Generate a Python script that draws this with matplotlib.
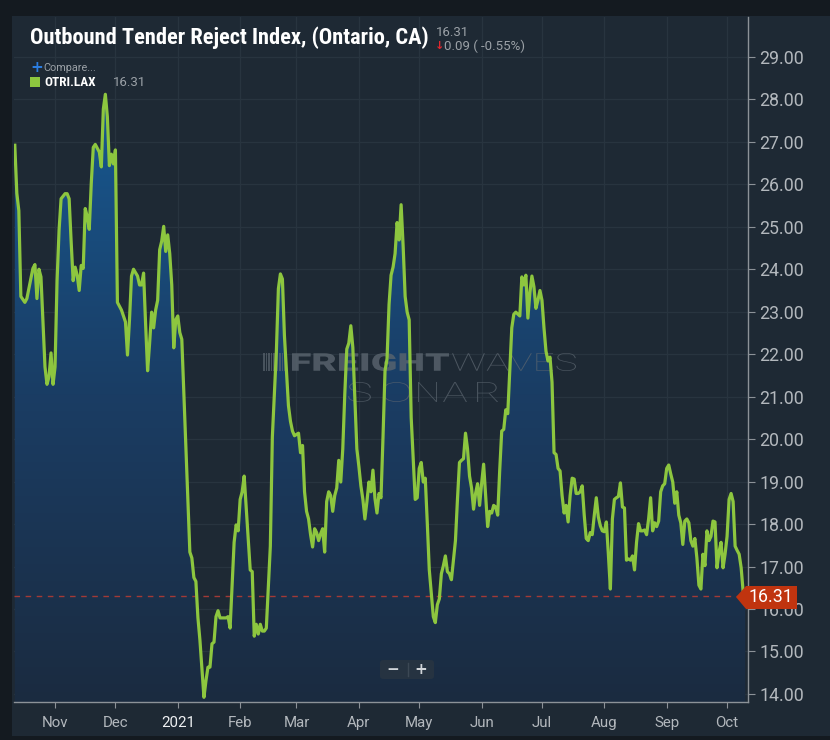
import numpy as np
import pandas as pd
import matplotlib
matplotlib.use("Agg")
import matplotlib.pyplot as plt
import matplotlib.dates as mdates
from matplotlib.colors import LinearSegmentedColormap
from matplotlib.patches import Rectangle, Polygon, FancyBboxPatch, PathPatch
from matplotlib.textpath import TextPath
from matplotlib.font_manager import FontProperties
from matplotlib.transforms import Affine2D
import warnings
warnings.filterwarnings("ignore")

# ---------------- data ----------------
start_date = "2020-11-01"
day_offsets = [
    -20, -19, -18, -17, -15, -14, -11, -10, -9, -8, -7, -5, -4, -3, -2, -1, 0, 1, 2, 3,
    5, 6, 7, 8, 9, 10, 11, 12, 13, 14, 15, 16, 17, 18, 19, 20, 21, 22, 23, 24,
    25, 26, 27, 28, 29, 30, 31, 33, 35, 36, 37, 38, 39, 41, 42, 43, 44, 45, 46, 47,
    48, 49, 50, 51, 52, 53, 54, 55, 56, 57, 58, 59, 60, 61, 62, 63, 67, 68, 69, 70,
    71, 72, 74, 75, 76, 77, 78, 79, 80, 81, 82, 85, 86, 87, 89, 90, 91, 92, 93, 94,
    95, 97, 98, 99, 100, 101, 102, 103, 104, 105, 107, 108, 110, 111, 112, 113, 114, 116, 117, 118,
    119, 121, 122, 123, 124, 125, 126, 127, 128, 129, 130, 131, 132, 133, 134, 135, 136, 137, 138, 139,
    140, 141, 142, 143, 144, 145, 146, 147, 148, 149, 150, 151, 152, 153, 154, 155, 156, 157, 158, 159,
    160, 161, 162, 163, 164, 165, 166, 167, 168, 169, 170, 171, 172, 173, 174, 175, 176, 177, 179, 180,
    181, 182, 183, 184, 185, 186, 188, 189, 190, 191, 192, 193, 194, 195, 196, 197, 199, 200, 201, 202,
    203, 204, 205, 206, 207, 208, 209, 210, 211, 212, 213, 214, 215, 216, 217, 218, 219, 220, 221, 222,
    223, 224, 225, 226, 227, 228, 229, 231, 232, 233, 234, 235, 236, 237, 238, 239, 240, 241, 242, 243,
    244, 245, 246, 247, 248, 249, 250, 251, 252, 253, 254, 255, 256, 257, 258, 259, 260, 261, 262, 263,
    264, 265, 266, 267, 268, 269, 270, 271, 272, 273, 274, 275, 276, 277, 278, 279, 280, 281, 282, 283,
    284, 285, 286, 287, 288, 289, 290, 291, 292, 293, 294, 295, 296, 297, 298, 299, 300, 301, 302, 303,
    304, 305, 306, 307, 308, 309, 310, 311, 312, 313, 314, 315, 316, 317, 318, 319, 320, 321, 322, 323,
    324, 325, 326, 327, 328, 329, 330, 331, 332, 333, 334, 335, 336, 337, 338, 339, 340, 341, 342, 343,
]
values = [
    26.92, 25.79, 25.38, 23.36, 23.22, 23.31, 24.02, 24.11, 23.31, 24.00, 23.82, 21.70, 21.29, 21.47, 22.03, 21.29, 21.70, 23.73, 24.92, 25.66,
    25.78, 25.78, 25.66, 24.65, 23.73, 24.05, 23.86, 23.50, 24.09, 24.02, 25.43, 25.24, 24.94, 26.02, 26.87, 26.94, 26.85, 26.76, 26.41, 27.77,
    28.12, 27.59, 26.44, 26.71, 26.48, 26.81, 23.22, 23.04, 22.76, 21.98, 22.81, 23.84, 24.00, 23.84, 23.63, 23.63, 23.91, 22.72, 21.61, 22.26,
    22.99, 22.62, 23.04, 23.27, 24.46, 24.66, 25.01, 24.42, 24.81, 24.37, 23.63, 22.15, 22.81, 22.90, 22.51, 22.35, 17.34, 17.20, 16.74, 16.65,
    15.80, 15.27, 13.92, 14.31, 14.63, 14.63, 15.18, 15.22, 15.82, 15.96, 15.79, 15.79, 15.82, 15.55, 17.57, 17.98, 17.84, 18.58, 18.76, 19.13,
    18.40, 16.92, 16.88, 15.36, 15.64, 15.41, 15.64, 15.48, 15.48, 15.55, 17.48, 20.05, 22.07, 23.54, 23.89, 23.77, 22.44, 20.79, 20.42, 20.19,
    20.08, 20.14, 19.68, 19.85, 18.76, 18.30, 18.12, 17.75, 17.46, 17.89, 17.80, 17.61, 17.77, 17.89, 17.34, 18.53, 18.76, 18.67, 18.30, 18.67,
    18.85, 19.50, 18.99, 19.77, 21.06, 22.12, 22.26, 22.67, 22.16, 20.97, 19.77, 19.36, 18.90, 18.58, 18.12, 18.53, 18.99, 18.76, 19.27, 18.60,
    18.26, 18.72, 18.62, 20.05, 21.61, 21.89, 23.17, 23.86, 24.05, 24.37, 25.10, 24.69, 25.52, 24.55, 23.36, 22.99, 22.81, 20.51, 18.58, 18.62,
    19.31, 19.45, 18.99, 19.08, 18.03, 16.92, 15.82, 15.68, 16.10, 16.24, 16.83, 17.02, 17.25, 16.88, 16.83, 16.69, 17.61, 18.58, 19.45, 19.50,
    19.54, 20.14, 19.77, 19.13, 18.85, 18.35, 18.72, 18.95, 18.44, 18.95, 19.41, 18.67, 17.94, 18.30, 18.26, 18.44, 18.40, 18.21, 19.27, 20.19,
    20.23, 20.69, 20.60, 21.61, 22.62, 22.94, 22.99, 22.90, 23.82, 23.63, 23.86, 22.85, 23.45, 23.84, 23.59, 23.08, 23.27, 23.50, 23.27, 22.62,
    22.07, 21.84, 21.93, 21.34, 19.68, 19.64, 19.31, 19.25, 18.67, 18.26, 18.44, 18.05, 18.67, 19.08, 19.06, 18.72, 18.72, 18.76, 18.90, 18.21,
    17.66, 17.61, 17.80, 17.75, 18.21, 18.62, 18.17, 17.96, 17.84, 17.82, 18.05, 17.29, 16.47, 18.12, 18.58, 18.62, 18.65, 18.97, 18.40, 18.38,
    17.15, 17.18, 17.15, 17.25, 16.92, 17.57, 18.01, 17.84, 17.84, 17.86, 17.75, 18.12, 18.62, 17.84, 18.03, 17.94, 18.07, 18.76, 18.90, 18.95,
    19.31, 19.39, 19.18, 18.99, 18.49, 18.76, 18.21, 18.03, 17.52, 18.07, 18.12, 18.03, 17.61, 17.48, 17.66, 17.20, 16.56, 16.47, 17.29, 17.02,
    17.84, 17.61, 17.71, 18.07, 18.05, 16.97, 17.34, 17.57, 16.97, 17.29, 17.71, 18.58, 18.72, 18.53, 17.48, 17.38, 17.29, 16.97, 16.40, 16.31,
]
month_ticks = ["2020-11-01", "2020-12-01", "2021-01-01", "2021-02-01", "2021-03-01", "2021-04-01",
               "2021-05-01", "2021-06-01", "2021-07-01", "2021-08-01", "2021-09-01", "2021-10-01"]
month_labels = ["Nov", "Dec", "2021", "Feb", "Mar", "Apr", "May", "Jun", "Jul", "Aug", "Sep", "Oct"]
y_ticks = list(range(14, 30))
title = "Outbound Tender Reject Index, (Ontario, CA)"
series_name = "OTRI.LAX"
last_value = 16.31
change = "0.09 ( -0.55%)"

# ---------------- style ----------------
W, H = 830, 740
BG_OUT = "#141a20"
BG = "#1e2934"
GRID = "#28343f"
LINE = "#8dc63f"
TXT = "#b3b8bd"
SANS = ["Roboto", "DejaVu Sans"]
NARROW = ["Liberation Sans Narrow", "Roboto Condensed", "Roboto", "DejaVu Sans"]

dates = pd.to_datetime(start_date) + pd.to_timedelta(day_offsets, unit="D")
x = mdates.date2num(dates)

fig = plt.figure(figsize=(W / 100, H / 100), dpi=100, facecolor=BG_OUT)

def fx(px):
    return px / W

def fy(py):
    return 1 - py / H

# panel
fig.patches.append(Rectangle((fx(12), fy(736)), fx(830) - fx(12), fy(16) - fy(736),
                             transform=fig.transFigure, facecolor=BG, edgecolor="none", zorder=-5))

ax = fig.add_axes([fx(14), fy(702), fx(748) - fx(14), fy(17) - fy(702)])
ax.set_zorder(1)
ax.set_facecolor(BG)

x0 = mdates.date2num(pd.to_datetime(start_date) - pd.Timedelta(days=20.4))
x1 = mdates.date2num(pd.to_datetime(start_date) + pd.Timedelta(days=344.4))
y0, y1 = 13.81, 29.94

# gridlines
for t in y_ticks:
    ax.axhline(t, color=GRID, lw=0.9, zorder=0.5)
for m in month_ticks:
    ax.axvline(mdates.date2num(pd.to_datetime(m)), color=GRID, lw=0.9, zorder=0.5)

# gradient fill under the line
poly = ax.fill_between(x, values, y0, color="none", lw=0, zorder=1)
cmap = LinearSegmentedColormap.from_list("g", ["#1b2b40", "#1a3d64", "#175992"])
grad = np.linspace(1, 0, 256).reshape(-1, 1)
im = ax.imshow(grad, extent=[x0, x1, y0, 28.3], aspect="auto", cmap=cmap,
               origin="upper", zorder=1, interpolation="bilinear")
path = poly.get_paths()[0]
im.set_clip_path(path, transform=ax.transData)

# watermark (text paths fitted into pixel boxes, image y measured from top)
wm = "#5b656f"

def fitted_text(s, box, weight, alpha):
    left, top, right, bottom = box
    tp = TextPath((0, 0), s, size=40, prop=FontProperties(family=SANS, weight=weight))
    ext = tp.get_extents()
    sx = (right - left) / ext.width
    sy = (bottom - top) / ext.height
    tr = (Affine2D().translate(-ext.x0, -ext.y0).scale(sx, sy)
          .translate(left, H - bottom))
    p = PathPatch(tr.transform_path(tp), facecolor=wm, edgecolor="none", alpha=alpha,
                  transform=None, zorder=2)
    p.set_clip_on(False)
    ax.add_artist(p)

fitted_text("FREIGHT", (292, 353, 449, 371), "black", 0.8)
fitted_text("WAVES", (452, 353, 576, 371), "light", 0.75)
for ch, (l, r) in zip("SONAR", [(348, 371), (383, 410), (418, 437), (443, 467), (477, 498)]):
    fitted_text(ch, (l, 382, r, 402), "light", 0.7)
for l, w in [(263, 2), (266, 1), (268, 2), (271, 1), (273, 3), (277, 1), (279, 2), (282, 1), (284, 3)]:
    rp = Rectangle((l, H - 371), w, 18, facecolor=wm, alpha=0.7, edgecolor="none",
                   transform=None, zorder=2)
    ax.add_artist(rp)

# main line
ax.plot(x, values, color=LINE, lw=2.3, zorder=3, solid_joinstyle="round")

# last value dashed line
ax.axhline(last_value, color="#a33a36", lw=1.0, ls=(0, (4, 4)), zorder=2.5)

ax.set_xlim(x0, x1)
ax.set_ylim(y0, y1)

# axes styling
for s in ["left", "top"]:
    ax.spines[s].set_visible(False)
ax.spines["right"].set_color("#8c9298")
ax.spines["bottom"].set_color("#8c9298")
ax.spines["right"].set_linewidth(1.0)
ax.spines["bottom"].set_linewidth(1.0)

ax.yaxis.tick_right()
ax.set_yticks(y_ticks)
ax.set_yticklabels([f"{t:.2f}" for t in y_ticks], family=SANS, fontsize=12.8, color=TXT)
ax.tick_params(axis="y", which="both", length=5, color="#8c9298", pad=3, direction="out")
ax.set_xticks([mdates.date2num(pd.to_datetime(m)) for m in month_ticks])
ax.set_xticklabels(month_labels, family=SANS, fontsize=10.8, color=TXT)
ax.tick_params(axis="x", length=4, color="#8c9298", pad=6, direction="out")
for lab in ax.get_xticklabels():
    if lab.get_text() == "2021":
        lab.set_color("#eef0f2")

# price tag at right
tag = Polygon([[fx(736), fy(597)], [fx(746), fy(586)], [fx(797), fy(586)],
               [fx(797), fy(609)], [fx(746), fy(609)]], closed=True,
              transform=fig.transFigure, facecolor="#c0340f", edgecolor="none", zorder=10)
fig.patches.append(tag)
fig.text(fx(771), fy(597.5), f"{last_value:.2f}", family=SANS, fontsize=12.8, color="white",
         ha="center", va="center", zorder=11)

# header texts
fig.text(fx(30), fy(38), title, family=NARROW, fontsize=16.1, fontweight="bold",
         color="white", ha="left", va="center")
fig.text(fx(436), fy(32), f"{last_value:.2f}", family=SANS, fontsize=9.5, color="#9ba1a7",
         ha="left", va="center")
fig.text(fx(435), fy(46), "\u2193", family=["DejaVu Sans"], fontsize=8, color="#e0262d",
         ha="left", va="center", fontweight="bold")
fig.text(fx(444), fy(46), change, family=SANS, fontsize=9.5, color="#9ba1a7",
         ha="left", va="center")
fig.text(fx(30), fy(67), "+", family=["DejaVu Sans"], fontsize=11, color="#2b7de0",
         ha="left", va="center", fontweight="bold")
fig.text(fx(43), fy(68), "Compare...", family=SANS, fontsize=7.8, color="#9ba1a7",
         ha="left", va="center")
fig.patches.append(Rectangle((fx(30), fy(87)), fx(10), fy(77) - fy(87), transform=fig.transFigure,
                             facecolor=LINE, edgecolor="none"))
fig.text(fx(44), fy(82.5), series_name, family=NARROW, fontsize=9.5, fontweight="bold",
         color="white", ha="left", va="center")
fig.text(fx(113), fy(82.5), f"{last_value:.2f}", family=SANS, fontsize=9.5, color="#9ba1a7",
         ha="left", va="center")

# zoom control
fig.patches.append(FancyBboxPatch((fx(380), fy(679)), fx(54), fy(660) - fy(679),
                                  boxstyle="round,pad=0,rounding_size=0.004",
                                  transform=fig.transFigure, facecolor="#263341",
                                  edgecolor="none", zorder=5))
fig.text(fx(393), fy(669), "\u2212", family=["DejaVu Sans"], fontsize=11, fontweight="bold",
         color="#d0d4d8", ha="center", va="center", zorder=6)
fig.text(fx(421), fy(669), "+", family=["DejaVu Sans"], fontsize=11, fontweight="bold",
         color="#d0d4d8", ha="center", va="center", zorder=6)
fig.lines.append(plt.Line2D([fx(408), fx(408)], [fy(663), fy(676)], transform=fig.transFigure,
                            color="#3c4855", lw=1, zorder=6))

fig.savefig("out.png", dpi=100, facecolor=BG_OUT)
